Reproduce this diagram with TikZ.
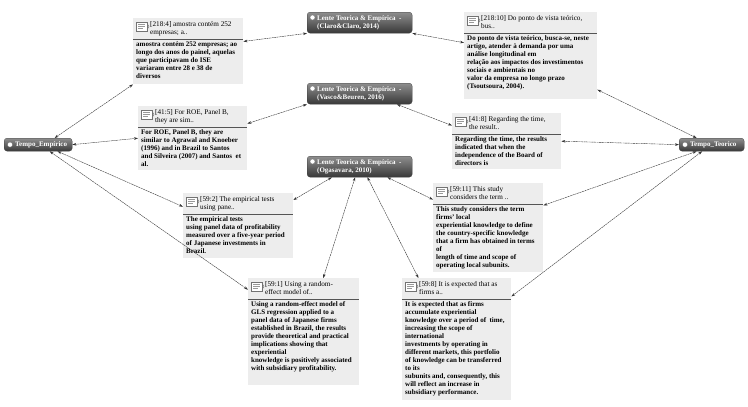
\documentclass[tikz,border=0pt]{standalone}
\usepackage{fontspec}
\setmainfont{Liberation Serif}
\usetikzlibrary{arrows.meta,calc}
\definecolor{qfill}{HTML}{EDEDED}
\definecolor{qsepc}{HTML}{555555}
\definecolor{ttop}{HTML}{8E8E8E}
\definecolor{tbot}{HTML}{383838}
\tikzset{
  qbg/.style={fill=qfill, draw=none, inner sep=0pt},
  qhead/.style={inner sep=0pt, align=left, font=\fontsize{7.2}{8.3}\selectfont},
  qbody/.style={inner sep=0pt, align=left, font=\fontsize{7}{8}\selectfont\bfseries},
  qsep/.style={draw=qsepc, line width=0.8pt},
  qicon/.style={draw=black!55, fill=white, line width=0.4pt},
  qline/.style={draw=black!40, line width=0.4pt},
  theo/.style={rounded corners=3pt, top color=ttop, bottom color=tbot, draw=black!75, line width=0.3pt, inner sep=0pt},
  theotext/.style={inner sep=0pt, align=left, text=white, font=\fontsize{7}{8.4}\selectfont\bfseries},
  ticon/.style={fill=white, draw=black!60, line width=0.2pt},
  conn/.style={<->, >={Stealth[length=4pt,width=2.6pt]}, draw=black!80, line width=0.4pt, dash pattern=on 2pt off 0.6pt},
}
\newcommand\qbox[7]{%
  \node[qbg, minimum width=#4pt, minimum height=#5pt, anchor=north west] (#1) at (#2,#3) {};
  \draw[qicon] ($(#1.north west)+(3,4)$) rectangle ($(#1.north west)+(14,13)$);
  \draw[qline] ($(#1.north west)+(5,6.5)$) -- ($(#1.north west)+(12,6.5)$)
               ($(#1.north west)+(5,8.5)$) -- ($(#1.north west)+(12,8.5)$)
               ($(#1.north west)+(5,10.5)$) -- ($(#1.north west)+(10,10.5)$);
  \draw[draw=black!55, line width=0.4pt] ($(#1.north west)+(14,5)$) -- ($(#1.north west)+(16,8.5)$) -- ($(#1.north west)+(14,12)$);
  \node[qhead, anchor=north west] at ($(#1.north west)+(17,3)$) {#6};
  \draw[qsep] ($(#1.north west)+(0,21)$) -- ($(#1.north east)+(0,21)$);
  \node[qbody, anchor=north west] at ($(#1.north west)+(3,23.5)$) {#7};
}
\newcommand\theonode[5]{% name, x, y, line1, line2
  \node[theo, minimum width=105pt, minimum height=21pt, anchor=north west] (#1) at (#2,#3) {};
  \node[theotext, anchor=west] at ($(#1.west)+(10,0)$) {#4\\#5};
  \node[ticon, circle, inner sep=0pt, minimum size=5pt] at ($(#1.north west)+(5.5,5.5)$) {};
}
\newcommand\timenode[5]{% name, x, y, w, text
  \node[theo, minimum width=#4pt, minimum height=13pt, anchor=north west] (#1) at (#2,#3) {};
  \node[theotext, anchor=west] at ($(#1.west)+(11,0)$) {#5};
  \node[ticon, circle, inner sep=0pt, minimum size=5pt] at ($(#1.west)+(6,0)$) {};
}
\begin{document}
\begin{tikzpicture}[x=1pt,y=-1pt]
\useasboundingbox[fill=white] (0,0) rectangle (748,407);

% theory / time nodes
\theonode{cl}{307}{12}{Lente Teorica \& Empírica\ \ -}{(Claro\&Claro, 2014)}
\theonode{vs}{307}{83}{Lente Teorica \& Empírica\ \ -}{(Vasco\&Beuren, 2016)}
\theonode{og}{307}{156}{Lente Teorica \& Empírica\ \ -}{(Ogasavara, 2010)}
\timenode{te}{4}{138}{68}{Tempo\_Empírico}
\timenode{tt}{679}{138}{65}{Tempo\_Teorico}

% quotations
\qbox{q2184}{133}{18}{110}{66}{[218:4] amostra contém 252\\empresas; a..}
 {amostra contém 252 empresas; ao\\longo dos anos do painel, aquelas\\que participavam do ISE\\variaram entre 28 e 38 de\\diversos}
\qbox{q21810}{464}{12}{133}{87}{[218:10] Do ponto de vista teórico,\\bus..}
 {Do ponto de vista teórico, busca-se, neste\\artigo, atender à demanda por uma\\análise longitudinal em\\relação aos impactos dos investimentos\\sociais e ambientais no\\valor da empresa no longo prazo\\(Tsoutsoura, 2004).}
\qbox{q415}{138}{106}{109}{64}{[41:5] For ROE, Panel B,\\they are sim..}
 {For ROE, Panel B, they are\\similar to Agrawal and Knoeber\\(1996) and in Brazil to Santos\\and Silveira (2007) and Santos\ \ et\\al.}
\qbox{q418}{452}{113}{109}{56}{[41:8] Regarding the time,\\the result..}
 {Regarding the time, the results\\indicated that when the\\independence of the Board of\\directors is}
\qbox{q592}{183}{193}{110}{65}{[59:2] The empirical tests\\using pane..}
 {The empirical tests\\using panel data of profitability\\measured over a five-year period\\of Japanese investments in\\Brazil.}
\qbox{q5911}{433}{183}{110}{89}{[59:11] This study\\considers the term ..}
 {This study considers the term\\firms' local\\experiential knowledge to define\\the country-specific knowledge\\that a firm has obtained in terms\\of\\length of time and scope of\\operating local subunits.}
\qbox{q591}{248}{278}{111}{107}{[59:1] Using a random-\\effect model of..}
 {Using a random-effect model of\\GLS regression applied to a\\panel data of Japanese firms\\established in Brazil, the results\\provide theoretical and practical\\implications showing that\\experiential\\knowledge is positively associated\\with subsidiary profitability.}
\qbox{q598}{402}{278}{109}{122}{[59:8] It is expected that as\\firms a..}
 {It is expected that as firms\\accumulate experiential\\knowledge over a period of\ \ time,\\increasing the scope of\\international\\investments by operating in\\different markets, this portfolio\\of knowledge can be transferred\\to its\\subunits and, consequently, this\\will reflect an increase in\\subsidiary performance.}

% connectors
\draw[conn] (te.22) -- (q2184.south west);
\draw[conn] (te.east) -- (q415.west);
\draw[conn] (te.-19) -- (q592.161);
\draw[conn] (te.-30) -- (q591.143);
\draw[conn] (tt.156) -- (q21810.-27);
\draw[conn] (tt.west) -- (q418.east);
\draw[conn] (tt.204) -- (q5911.22);
\draw[conn] (tt.215) -- (q598.38);
\draw[conn] (cl.south west) -- (q2184.10);
\draw[conn] (cl.south east) -- (q21810.169);
\draw[conn] (vs.south west) -- (q415.15);
\draw[conn] (vs.-16) -- (q418.164);
\draw[conn] (og.201) -- (q592.25);
\draw[conn] (og.247) -- (q591.70);
\draw[conn] (og.-54) -- (q598.122);
\draw[conn] (og.-21) -- (q5911.153);
\end{tikzpicture}
\end{document}
